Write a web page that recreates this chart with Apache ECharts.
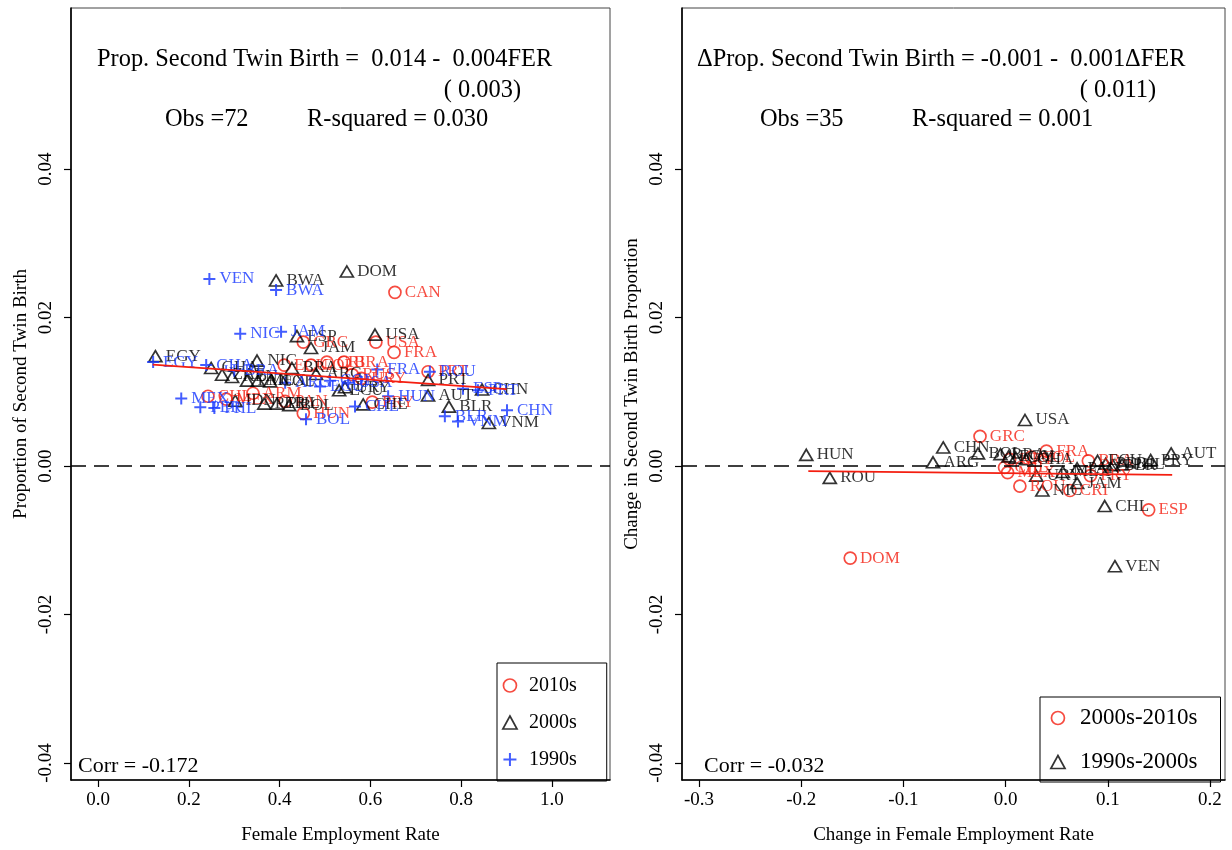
<!DOCTYPE html>
<html><head><meta charset="utf-8">
<script src="https://cdn.jsdelivr.net/npm/echarts@6/dist/echarts.min.js"></script>
<style>html,body{margin:0;padding:0;background:#fff}#c{width:1232px;height:850px}</style>
</head><body><div id="c"></div>
<script>
const FONT = '"Liberation Serif", "Times New Roman", serif';
const RED = '#f41e10', BLACK = '#000000', BLUE = '#1434ff';

// Left panel: [female employment rate, proportion second twin birth, country]
const left2010s = [
  [0.654,0.0234,'CAN'],[0.612,0.0167,'USA'],[0.652,0.0153,'FRA'],[0.452,0.0167,'GRC'],
  [0.504,0.0140,'CRI'],[0.542,0.0140,'BRA'],[0.469,0.0136,'COL'],[0.410,0.0136,'ECU'],
  [0.727,0.0127,'PRT'],[0.560,0.0123,'RUS'],[0.580,0.0118,'URY'],[0.242,0.0094,'CHL'],
  [0.282,0.0090,'MEX'],[0.341,0.0098,'ARM'],[0.412,0.0087,'PAN'],[0.452,0.0071,'HUN'],
  [0.604,0.0086,'PRY']
];
const left2000s = [
  [0.548,0.0262,'DOM'],[0.392,0.0250,'BWA'],[0.610,0.0177,'USA'],[0.438,0.0175,'ESP'],
  [0.469,0.0159,'JAM'],[0.126,0.0148,'EGY'],[0.350,0.0142,'NIC'],[0.427,0.0132,'BRA'],
  [0.480,0.0124,'ARG'],[0.249,0.0132,'GHA'],[0.273,0.0123,'ZAF'],[0.295,0.0120,'KEN'],
  [0.328,0.0115,'PAN'],[0.352,0.0115,'MEX'],[0.379,0.0114,'COL'],[0.531,0.0102,'ECU'],
  [0.544,0.0106,'URY'],[0.727,0.0116,'PRT'],[0.727,0.0095,'AUT'],[0.773,0.0080,'BLR'],
  [0.861,0.0058,'VNM'],[0.584,0.0083,'CHE'],[0.846,0.0103,'CHN'],[0.366,0.0084,'PER'],
  [0.394,0.0084,'PHL'],[0.421,0.0082,'BOL'],[0.302,0.0088,'IDN']
];
const left1990s = [
  [0.245,0.0252,'VEN'],[0.392,0.0237,'BWA'],[0.313,0.0178,'NIC'],[0.403,0.0181,'JAM'],
  [0.121,0.0140,'EGY'],[0.238,0.0136,'GHA'],[0.300,0.0128,'BRA'],[0.183,0.0091,'MEX'],
  [0.225,0.0079,'PER'],[0.256,0.0078,'PHL'],[0.412,0.0112,'ARG'],[0.458,0.0063,'BOL'],
  [0.615,0.0130,'FRA'],[0.731,0.0127,'ROU'],[0.639,0.0094,'HUN'],[0.551,0.0112,'USA'],
  [0.901,0.0075,'CHN'],[0.764,0.0067,'BLR'],[0.793,0.0060,'VNM'],[0.566,0.0080,'CHL'],
  [0.511,0.0115,'COL'],[0.489,0.0107,'ECU'],[0.837,0.0102,'PRT'],[0.804,0.0104,'ESP']
];
const leftFit = [[0.12,0.01365],[0.90,0.01035]];

// Right panel: [change in FER, change in proportion, country]
const right0010 = [
  [-0.152,-0.0124,'DOM'],[-0.025,0.0040,'GRC'],[0.040,0.0020,'FRA'],[0.081,0.0007,'BRA'],
  [0.140,-0.0059,'ESP'],[0.063,-0.0033,'CRI'],[0.014,-0.0027,'ROU'],[0.002,-0.0009,'MEX'],
  [-0.001,-0.0002,'CHL'],[0.083,-0.0013,'PRY'],[0.004,0.0009,'URY'],[0.025,0.0012,'COL']
];
const right9000 = [
  [-0.195,0.0015,'HUN'],[-0.172,-0.0016,'ROU'],[-0.071,0.0005,'ARG'],[-0.061,0.0025,'CHN'],
  [0.019,0.0062,'USA'],[-0.027,0.0017,'BOL'],[0.162,0.0017,'AUT'],[0.142,0.0008,'PRY'],
  [0.097,-0.0054,'CHL'],[0.107,-0.0135,'VEN'],[0.036,-0.0033,'NIC'],[0.070,-0.0023,'JAM'],
  [-0.005,0.0016,'BRA'],[0.003,0.0013,'EGY'],[0.010,0.0011,'COL'],[0.030,-0.0013,'URY'],
  [0.056,-0.0008,'MEX'],[0.070,-0.0003,'PAN'],[0.090,0.0007,'ECU'],[0.098,0.0003,'PER'],
  [0.105,0.0001,'BLR'],[0.020,0.0009,'GHA'],[0.114,0.0002,'PHL']
];
const rightFit = [[-0.193,-0.0007],[0.163,-0.0012]];

const leftXTicks = [0, 0.2, 0.4, 0.6, 0.8, 1.0];
const rightXTicks = [-0.3, -0.2, -0.1, 0, 0.1, 0.2];
const yTicks = [-0.04, -0.02, 0, 0.02, 0.04];

const PLUS = 'path://M6,0L6,12M0,6L12,6';
const TRI = 'path://M6,0L12,11L0,11Z';
const styles = {
  circle: {symbol:'circle', size:12, color:RED},
  tri: {symbol:'triangle', size:[13,11], color:BLACK},
  plus: {symbol:PLUS, size:12, color:BLUE}
};
function scatter(name, data, idx, st) {
  const s = styles[st];
  return {
    name, type:'scatter', xAxisIndex:idx, yAxisIndex:idx, data,
    symbol:s.symbol, symbolSize:s.size,
    itemStyle:{color:'rgba(0,0,0,0)', borderColor:s.color, borderWidth: st==='plus'?2:1.7},
    label:{show:true, position:'right', distance:3, formatter:p=>p.data[2],
      color:s.color, fontFamily:FONT, fontSize:17},
    emphasis:{disabled:true}, z:3
  };
}
function fit(data, idx) {
  return {
    type:'line', xAxisIndex:idx, yAxisIndex:idx, data, symbol:'none',
    lineStyle:{color:RED, width:1.8}, z:5, silent:true,
    markLine:{silent:true, symbol:'none', data:[{yAxis:0}], label:{show:false},
      lineStyle:{color:'#000', type:[15,8], width:1.5}}
  };
}
const tickFmt1 = v => Number(v).toFixed(1);
const tickFmt2 = v => Number(v).toFixed(2);
function xAx(idx, min, max, ticks, name) {
  return {
    gridIndex:idx, type:'value', min, max, splitLine:{show:false},
    axisLine:{onZero:false, lineStyle:{color:'#000', width:1.6}},
    axisTick:{customValues:ticks, length:7, lineStyle:{color:'#000', width:1.2}},
    axisLabel:{customValues:ticks, formatter:tickFmt1, color:'#000', fontFamily:FONT, fontSize:19, margin:11},
    name, nameLocation:'middle', nameGap:46,
    nameTextStyle:{color:'#000', fontFamily:FONT, fontSize:19}
  };
}
function yAx(idx, name) {
  return {
    gridIndex:idx, type:'value', min:-0.0423, max:0.0617, splitLine:{show:false},
    axisLine:{onZero:false, lineStyle:{color:'#000', width:1.6}},
    axisTick:{customValues:yTicks, length:7, lineStyle:{color:'#000', width:1.2}},
    axisLabel:{customValues:yTicks, formatter:tickFmt2, rotate:90, color:'#000', fontFamily:FONT, fontSize:19, margin:15},
    name, nameLocation:'middle', nameGap:40,
    nameTextStyle:{color:'#000', fontFamily:FONT, fontSize:19}
  };
}
function txt(text, x, y, align, size) {
  return {type:'text', x, y, silent:true,
    style:{text, fill:'#000', fontFamily:FONT, fontSize:size||24.4, align:align||'left', verticalAlign:'middle'}};
}
const hollow = c => ({color:'rgba(0,0,0,0)', borderColor:c, borderWidth:1.7});

const chart = echarts.init(document.getElementById('c'), null, {renderer:'canvas'});
chart.setOption({
  animation:false,
  backgroundColor:'#fff',
  grid:[
    {left:71, top:8, width:539, height:775, show:true, borderColor:'#444', borderWidth:1, containLabel:false},
    {left:682, top:8, width:543, height:775, show:true, borderColor:'#444', borderWidth:1, containLabel:false}
  ],
  xAxis:[
    xAx(0, -0.06, 1.128, leftXTicks, 'Female Employment Rate'),
    xAx(1, -0.3166, 0.2147, rightXTicks, 'Change in Female Employment Rate')
  ],
  yAxis:[
    yAx(0, 'Proportion of Second Twin Birth'),
    yAx(1, 'Change in Second Twin Birth Proportion')
  ],
  legend:[
    {orient:'vertical', left:497, top:663, itemWidth:28, itemHeight:13, itemGap:16,
      padding:[12,30,11,5], borderColor:'#000', borderWidth:1, selectedMode:false,
      symbolKeepAspect:true,
      textStyle:{fontFamily:FONT, fontSize:20, color:'#000', lineHeight:21},
      data:[
        {name:'2010s', icon:'circle', itemStyle:hollow(RED)},
        {name:'2000s', icon:TRI, itemStyle:hollow(BLACK)},
        {name:'1990s', icon:PLUS, itemStyle:{color:'rgba(0,0,0,0)', borderColor:BLUE, borderWidth:2}}
      ]},
    {orient:'vertical', left:1040, top:697, itemWidth:34, itemHeight:13, itemGap:20,
      padding:[9,23,8,10], borderColor:'#000', borderWidth:1, selectedMode:false,
      symbolKeepAspect:true,
      textStyle:{fontFamily:FONT, fontSize:23, color:'#000', lineHeight:24},
      data:[
        {name:'2000s-2010s', icon:'circle', itemStyle:hollow(RED)},
        {name:'1990s-2000s', icon:TRI, itemStyle:hollow(BLACK)}
      ]}
  ],
  graphic:[
    txt('Prop. Second Twin Birth =  0.014 -  0.004FER', 97, 60),
    txt('( 0.003)', 521, 91, 'right'),
    txt('Obs =72', 165, 120),
    txt('R-squared = 0.030', 307, 120),
    txt('Corr = -0.172', 78, 766, 'left', 22),
    txt('\u0394Prop. Second Twin Birth = -0.001 -  0.001\u0394FER', 697, 60),
    txt('( 0.011)', 1156, 91, 'right'),
    txt('Obs =35', 760, 120),
    txt('R-squared = 0.001', 912, 120),
    txt('Corr = -0.032', 704, 766, 'left', 22)
  ],
  series:[
    scatter('2010s', left2010s, 0, 'circle'),
    scatter('2000s', left2000s, 0, 'tri'),
    scatter('1990s', left1990s, 0, 'plus'),
    fit(leftFit, 0),
    scatter('2000s-2010s', right0010, 1, 'circle'),
    scatter('1990s-2000s', right9000, 1, 'tri'),
    fit(rightFit, 1)
  ]
});
</script></body></html>
